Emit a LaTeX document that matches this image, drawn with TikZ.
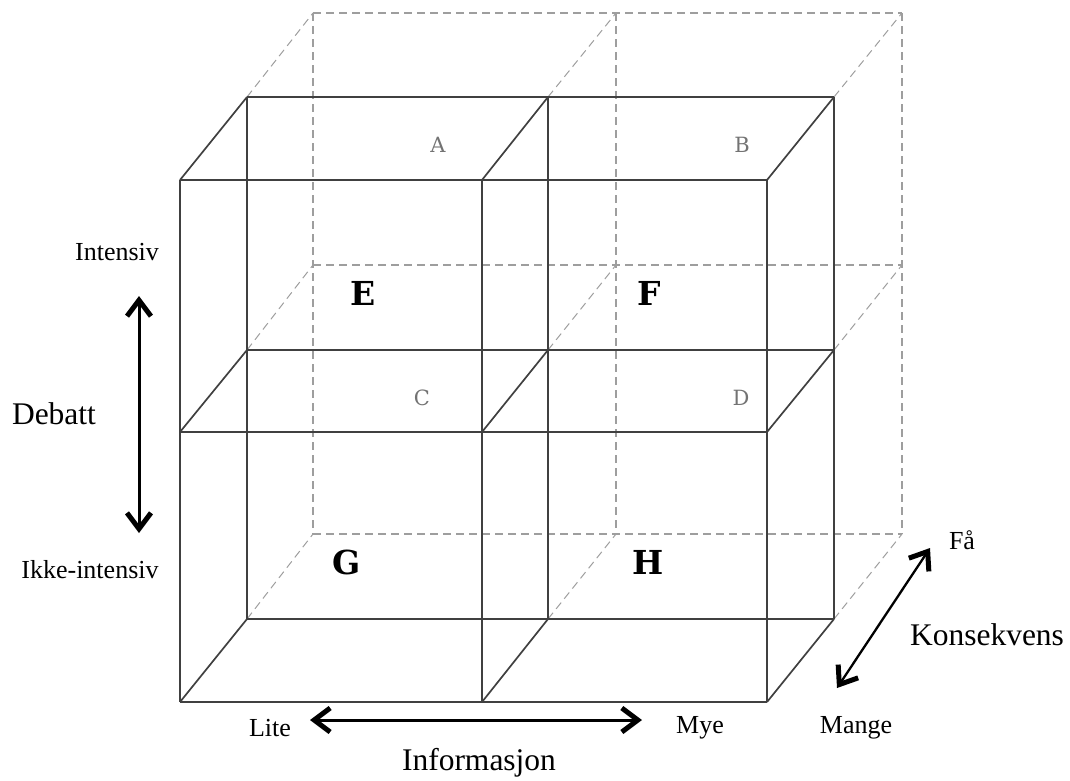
\documentclass[tikz,border=0pt]{standalone}
\usepackage{fontspec}
\setmainfont{Liberation Serif}
\newfontfamily\cellfont{DejaVu Serif}
\usetikzlibrary{arrows.meta,positioning,calc}

\begin{document}
\begin{tikzpicture}[x=1pt,y=-1pt,
	solidline/.style={line width=1.7pt,draw=black!75},
	backline/.style={line width=1.7pt,draw=black!38,dash pattern=on 8pt off 5pt},
	depthline/.style={line width=1pt,draw=black!38,dash pattern=on 8pt off 5pt},
	cell/.style={font=\cellfont\fontsize{21}{25}\selectfont,text=black!55},
	region/.style={font=\cellfont\bfseries\fontsize{33}{38}\selectfont},
	axislabel/.style={font=\fontsize{26}{30}\selectfont},
	axistitle/.style={font=\fontsize{31.5}{36}\selectfont},
	barb/.tip={Straight Barb[length=16pt,width=24pt,line width=5pt]},
	axis/.style={line width=3pt,barb-barb}]
	\useasboundingbox (0,0) rectangle (1070,780);
	
	% back layer (hidden)
	\foreach \x in {313,616,902}
		\draw[backline] (\x,13)--(\x,534);
	\foreach \y in {13,265,534}
		\draw[backline] (313,\y)--(902,\y);
	
	% depth edges, middle to back
	\foreach \x/\xx in {247/313,548/616,834/902}
		\foreach \y/\yy in {97/13,350/265,619/534}
			\draw[depthline] (\x,\y)--(\xx,\yy);
	
	% middle layer
	\foreach \x in {247,548,834}
		\draw[solidline] (\x,97)--(\x,619);
	\foreach \y in {97,350,619}
		\draw[solidline] (247,\y)--(834,\y);
	
	% front layer
	\foreach \x in {180,482,767}
		\draw[solidline] (\x,180)--(\x,702);
	\foreach \y in {180,432,702}
		\draw[solidline] (180,\y)--(767,\y);
	
	% depth edges, front to middle
	\foreach \x/\xx in {180/247,482/548,767/834}
		\foreach \y/\yy in {180/97,432/350,702/619}
			\draw[solidline] (\x,\y)--(\xx,\yy);
	
	% cell letters
	\node[cell] (a) at (438,145) {A};
	\node[cell] (b) at (742,145) {B};
	\node[cell] (c) at (422,398) {C};
	\node[cell] (d) at (741,398) {D};
	\node[region] (e) at (363,293) {E};
	\node[region] (f) at (649,293) {F};
	\node[region] (g) at (347,562) {G};
	\node[region] (h) at (648,562) {H};
	
	% debatt axis
	\node[axislabel] (intensiv) at (117,252) {Intensiv};
	\node[axislabel] (ikke) at (90,570) {Ikke-intensiv};
	\node[axistitle] (debatt) at (54,414) {Debatt};
	\coordinate (debtop) at (139,296);
	\coordinate (debbot) at (139,533);
	\draw[axis] (debtop)--(debbot);
	
	% informasjon axis
	\node[axislabel] (lite) at (270,728) {Lite};
	\node[axislabel] (mye) at (700,728) {Mye};
	\node[axistitle] (info) at (479,763) {Informasjon};
	\coordinate (infoleft) at (310,720);
	\coordinate (inforight) at (642,720);
	\draw[axis] (infoleft)--(inforight);
	
	% konsekvens axis
	\node[axislabel] (mange) at (856,728) {Mange};
	\node[axislabel] (faa) at (962,540) {Få};
	\node[axistitle] (kons) at (987,635) {Konsekvens};
	\coordinate (konslow) at (837,688);
	\coordinate (konshigh) at (930,548);
	\draw[axis,line width=2.3pt] (konslow)--(konshigh);
\end{tikzpicture}
\end{document}
